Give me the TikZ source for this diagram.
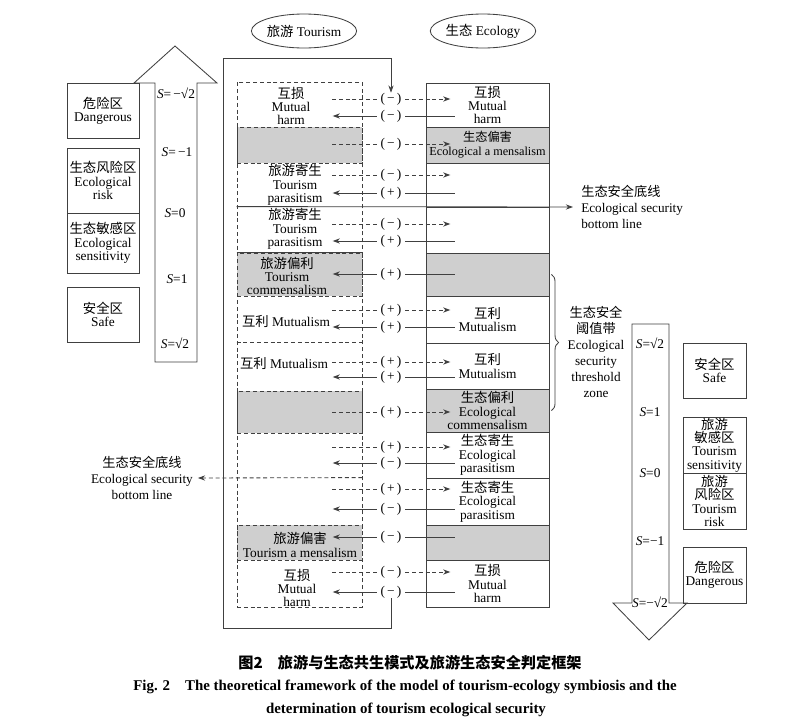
\documentclass[tikz,border=0pt]{standalone}
\usepackage{fontspec}
\setmainfont{Liberation Serif}
\newfontfamily\cjk{Noto Sans CJK SC}
\usetikzlibrary{shapes.geometric}
\usetikzlibrary{arrows.meta}
\usetikzlibrary{decorations.pathreplacing}
\newcommand{\zh}[1]{{\cjk #1}}
\newcommand{\px}{0.025cm}
\newcommand{\fs}{\fontsize{9.5}{9.5}\selectfont}

\begin{document}
\begin{tikzpicture}[x=\px, y=-\px,
                    ln/.style={draw=black!75, line width=0.6pt},
                    dsh/.style={draw=black!75, line width=0.6pt, dash pattern=on 1mm off 0.7mm},
                    arr/.style={-{Stealth[length=1.8mm,width=1.3mm]}},
                    cell/.style={ln, rectangle, minimum width=123*\px, inner sep=0pt, align=center, font=\fs},
                    tshade/.style={dsh, rectangle, fill=black!19, minimum width=125*\px, inner sep=0pt},
                    shade/.style={fill=black!19},
                    txt/.style={inner sep=0pt, align=center, font=\fs},
                    sgn/.style={inner sep=0pt, minimum width=28*\px, font=\fs},
                    zone/.style={ln, rectangle, inner sep=0pt, align=center, font=\fs},
                    oval/.style={ln, ellipse, inner sep=0pt, minimum height=34*\px, font=\fs},
                    sval/.style={inner sep=0pt, font=\fs},
                    note/.style={inner sep=0pt, align=center, font=\fontsize{9.4}{11.4}\selectfont}
                ]
    \path[use as bounding box, fill=white] (0,0) rectangle (795,724);

    % Heads
    \node[oval, minimum width=97*\px] (tour) at (304,31) {\zh{旅游} Tourism};
    \node[oval, minimum width=100*\px] (eco) at (483,31) {\zh{生态} Ecology};

    % Ecology column
    \node[cell, minimum height=44*\px] (r1) at (487.5,105) {\zh{互损}\\Mutual\\harm};
    \node[cell, shade, minimum height=36*\px, font=\fontsize{8.7}{9.8}\selectfont] (r2) at (487.5,145) {\zh{生态偏害}\\Ecological a mensalism};
    \node[cell, minimum height=44*\px] (r3) at (487.5,185) {};
    \node[cell, minimum height=46*\px] (r4) at (487.5,230) {};
    \node[cell, shade, minimum height=43*\px] (r5) at (487.5,274.5) {};
    \node[cell, minimum height=47*\px] (r6) at (487.5,319.5) {\zh{互利}\\Mutualism};
    \node[cell, minimum height=46*\px] (r7) at (487.5,366) {\zh{互利}\\Mutualism};
    \node[cell, shade, minimum height=43*\px] (r8) at (487.5,410.5) {\zh{生态偏利}\\Ecological\\commensalism};
    \node[cell, minimum height=46*\px] (r9) at (487.5,455) {\zh{生态寄生}\\Ecological\\parasitism};
    \node[cell, minimum height=47*\px] (r10) at (487.5,501.5) {\zh{生态寄生}\\Ecological\\parasitism};
    \node[cell, shade, minimum height=35*\px] (r11) at (487.5,542.5) {};
    \node[cell, minimum height=47*\px] (r12) at (487.5,583.5) {\zh{互损}\\Mutual\\harm};

    % Tourism column
    \node[tshade, minimum height=36*\px] (g2) at (299.5,145) {};
    \node[tshade, minimum height=43*\px] (g5) at (299.5,274.5) {};
    \node[tshade, minimum height=42*\px] (g8) at (299.5,412) {};
    \node[tshade, minimum height=35*\px] (g11) at (299.5,542.5) {};
    \node[dsh, rectangle, minimum width=125*\px, minimum height=525*\px, inner sep=0pt] (tcol) at (299.5,344.5) {};
    \draw[ln] (g5.north west) -- (g5.north east);
    \draw[dsh] (tcol.west |- r7.north) -- (tcol.east |- r7.north);

    \node[txt] (t1) at (291,106) {\zh{互损}\\Mutual\\harm};
    \node[txt] (t3) at (295,185) {\zh{旅游寄生}\\Tourism\\parasitism};
    \node[txt] (t4) at (295,229) {\zh{旅游寄生}\\Tourism\\parasitism};
    \node[txt] (t5) at (287,276) {\zh{旅游偏利}\\Tourism\\commensalism};
    \node[txt] (t6) at (286,321) {\zh{互利} Mutualism};
    \node[txt] (t7) at (284,363) {\zh{互利} Mutualism};
    \node[txt] (t11) at (300,545) {\zh{旅游偏害}\\Tourism a mensalism};
    \node[txt] (t12) at (297,588) {\zh{互损}\\Mutual\\harm};

    % Effects between the two
    \foreach \y/\s in {99/−,144/−,175/−,224/−,310/+,362/+,412/+,447/+,489/+,572/−}{
        \node[sgn] (d\y) at (391,\y) {(\,\s\,)};
        \draw[dsh] (d\y.west) -- ++(-45,0);
        \draw[dsh, arr] (d\y.east) -- ++(45,0);
    }
    \foreach \y/\s in {116/−,193/+,241/+,274/+,327/+,377/+,463/−,509/−,537/−,592/−}{
        \node[sgn] (s\y) at (391,\y) {(\,\s\,)};
        \draw[ln] (s\y.east) -- ++(50,0);
        \draw[ln, arr] (s\y.west) -- ++(-44,0);
    }

    % Feedback loop
    \coordinate (fb) at (223,628);
    \coordinate (ft) at (223,58);
    \draw[ln, arr] (s592.south) |- (fb) -- (ft) -| (d99.north);

    % Bottom lines and threshold zone
    \node[note, anchor=west, align=left, inner xsep=0.2cm] (sbr) at (573,207) {\zh{生态安全底线}\\Ecological security\\bottom line};
    \node[note, inner xsep=0.12cm] (sbl) at (142,478) {\zh{生态安全底线}\\Ecological security\\bottom line};
    \draw[ln, arr] (tcol.west |- r4.north) -- (sbr.west);
    \draw[dsh, arr] (tcol.east |- r10.north) -- (sbl.east);
    \draw[ln, decorate, decoration={brace, amplitude=0.18cm, raise=0.05cm}] (r5.east) -- (r8.east);
    \node[note] (thz) at (596,352) {\zh{生态安全}\\\zh{阈值带}\\Ecological\\security\\threshold\\zone};

    % Ecology scale (left)
    \draw[ln] (155,362) -- (155,83) -- (134,83) -- (175,46) -- (217,83) -- (197,83) -- (197,362) -- cycle;
    \node[sval] (sl1) at (176,93) {\textit{S}=\,−√2};
    \node[sval] (sl2) at (177,152) {\textit{S}=\,−1};
    \node[sval] (sl3) at (175,213) {\textit{S}=0};
    \node[sval] (sl4) at (177,279) {\textit{S}=1};
    \node[sval] (sl5) at (175,343) {\textit{S}=√2};
    \node[zone, minimum width=72*\px, minimum height=55*\px] (ld) at (103,110.5) {\zh{危险区}\\Dangerous};
    \node[zone, minimum width=72*\px, minimum height=65*\px] (lr) at (103,180.5) {\zh{生态风险区}\\Ecological\\risk};
    \node[zone, minimum width=72*\px, minimum height=60*\px] (ls) at (103,243) {\zh{生态敏感区}\\Ecological\\sensitivity};
    \node[zone, minimum width=72*\px, minimum height=55*\px] (lsf) at (103,314.5) {\zh{安全区}\\Safe};

    % Tourism scale (right)
    \draw[ln] (632,324) -- (669,324) -- (669,603) -- (687,603) -- (649,640) -- (613,603) -- (632,603) -- cycle;
    \node[sval] (sr1) at (650,343) {\textit{S}=√2};
    \node[sval] (sr2) at (650,412) {\textit{S}=1};
    \node[sval] (sr3) at (650,473) {\textit{S}=0};
    \node[sval] (sr4) at (650,541) {\textit{S}=−1};
    \node[sval] (sr5) at (650,602) {\textit{S}=−√2};
    \node[zone, minimum width=63*\px, minimum height=55*\px] (rsf) at (714.5,370.5) {\zh{安全区}\\Safe};
    \node[zone, minimum width=63*\px, minimum height=56*\px] (rs) at (714.5,445) {\zh{旅游}\\\zh{敏感区}\\Tourism\\sensitivity};
    \node[zone, minimum width=63*\px, minimum height=56*\px] (rr) at (714.5,501) {\zh{旅游}\\\zh{风险区}\\Tourism\\risk};
    \node[zone, minimum width=63*\px, minimum height=56*\px] (rd) at (714.5,575) {\zh{危险区}\\Dangerous};

    % Caption
    \node[inner sep=0pt, font=\fontsize{10.8}{12}\selectfont\cjk\bfseries] (cap1) at (410,663) {图2\quad 旅游与生态共生模式及旅游生态安全判定框架};
    \node[inner sep=0pt, font=\fontsize{10.6}{12}\selectfont\bfseries] (cap2) at (405,687) {Fig. 2\quad The theoretical framework of the model of tourism-ecology symbiosis and the};
    \node[inner sep=0pt, font=\fontsize{10.6}{12}\selectfont\bfseries] (cap3) at (406,710) {determination of tourism ecological security};
\end{tikzpicture}
\end{document}
